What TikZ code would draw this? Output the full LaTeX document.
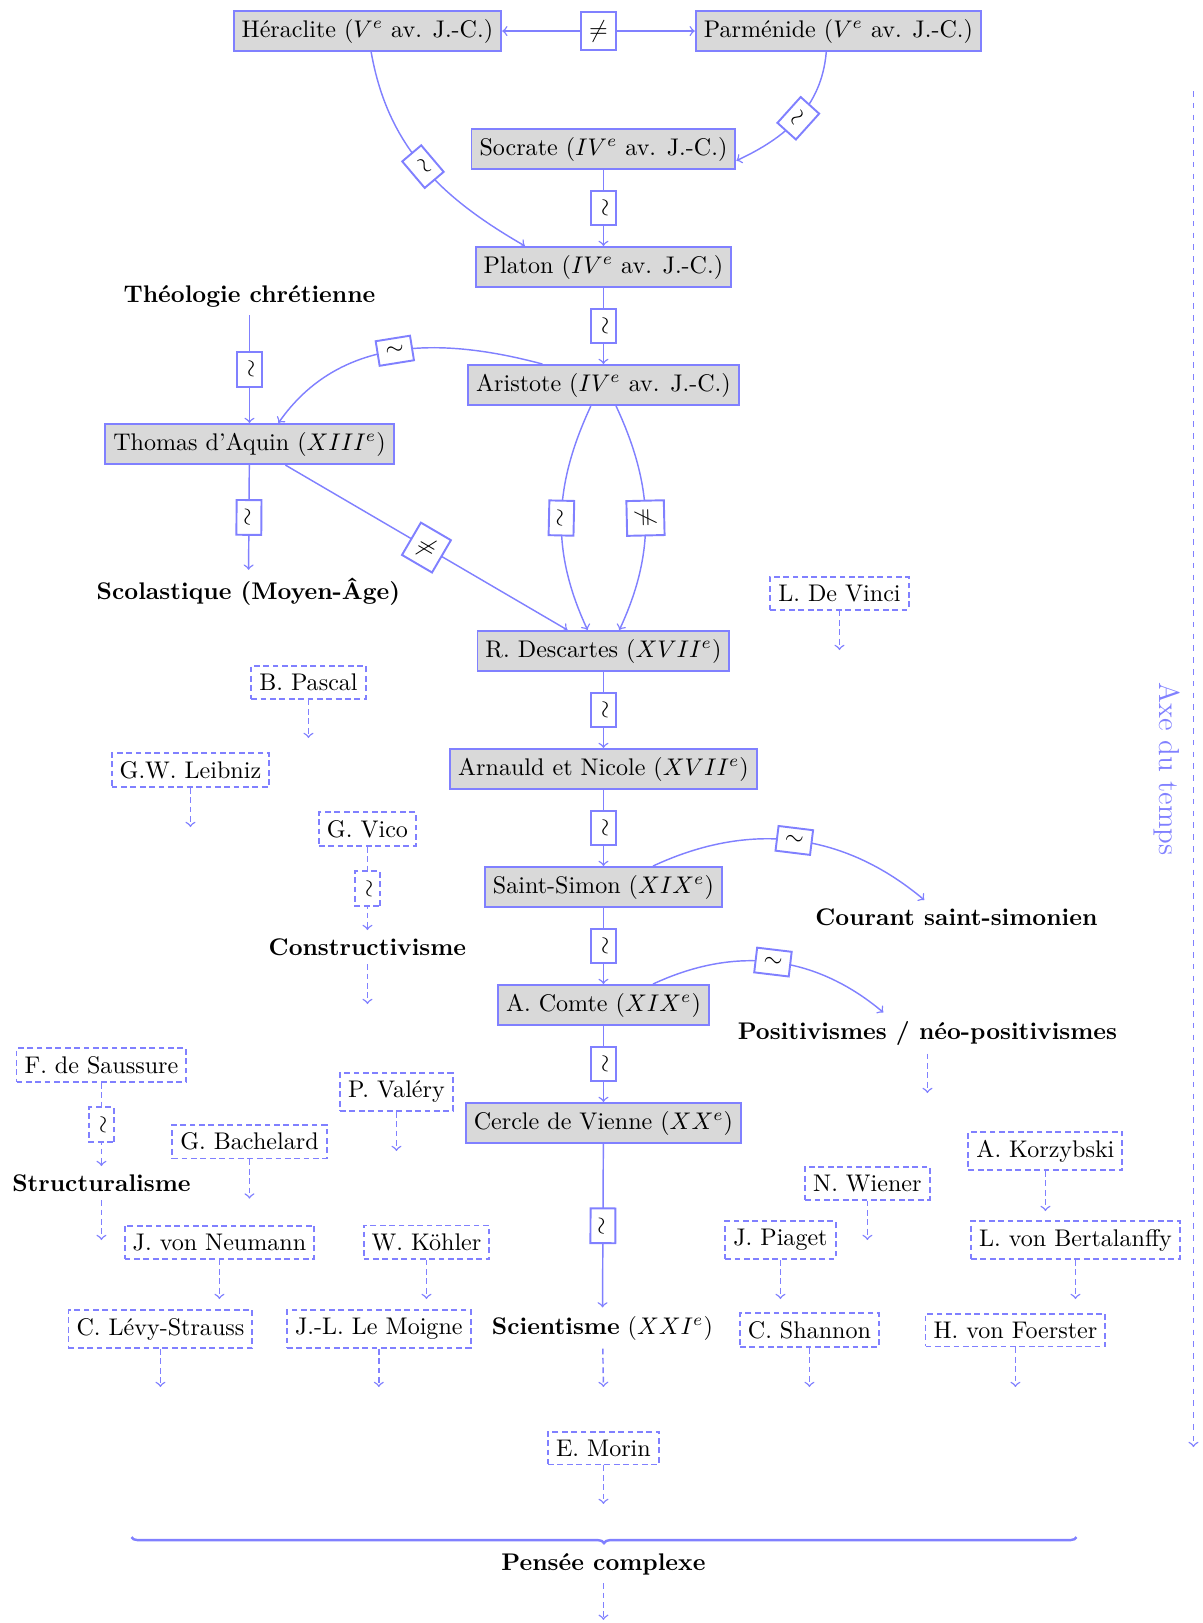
\documentclass[tikz,border=0pt]{standalone}
\usetikzlibrary{decorations.pathreplacing}
\begin{document}
\begin{tikzpicture}[x=0.43pt,y=0.43pt,
  thinker/.style={draw=blue!50, fill=gray!30, line width=0.8pt},
  heir/.style={draw=blue!50, line width=0.8pt, dash pattern=on 2.4pt off 1.5pt},
  school/.style={font=\bfseries},
  link/.style={draw=blue!50, line width=0.6pt, ->},
  dlink/.style={link, dash pattern=on 2.4pt off 1.5pt},
  tag/.style={draw=blue!50, fill=white, line width=0.8pt, sloped, midway, text=black},
]
\useasboundingbox (0,0) rectangle (1162,-1568);

% main line of thinkers
\node[thinker] (her) at (355,-30) {Héraclite ($V^e$ av. J.-C.)};
\node[thinker] (par) at (810,-30) {Parménide ($V^e$ av. J.-C.)};
\node[thinker] (soc) at (583,-144) {Socrate ($IV^e$ av. J.-C.)};
\node[thinker] (pla) at (583,-258) {Platon ($IV^e$ av. J.-C.)};
\node[thinker] (ari) at (583,-372) {Aristote ($IV^e$ av. J.-C.)};
\node[school] (theo) at (241,-286) {Théologie chrétienne};
\node[thinker] (tho) at (241,-429) {Thomas d'Aquin ($XIII^e$)};
\node[school] (sco) at (240,-572) {Scolastique (Moyen-Âge)};
\node[thinker] (des) at (583,-629) {R. Descartes ($XVII^e$)};
\node[thinker] (arn) at (583,-743) {Arnauld et Nicole ($XVII^e$)};
\node[thinker] (sai) at (583,-857) {Saint-Simon ($XIX^e$)};
\node[thinker] (com) at (583,-971) {A. Comte ($XIX^e$)};
\node[thinker] (cer) at (583,-1085) {Cercle de Vienne ($XX^e$)};
\node (sci) at (582,-1283) {\textbf{Scientisme} ($XXI^e$)};
\node[school] (cou) at (924,-886) {Courant saint-simonien};
\node[school] (pos) at (896,-998) {Positivismes / néo-positivismes};

% other thinkers and currents
\node[heir] (vinci) at (811,-573) {L. De Vinci};
\node[heir] (pascal) at (298,-659) {B. Pascal};
\node[heir] (leibniz) at (184,-744) {G.W. Leibniz};
\node[heir] (vico) at (355,-801) {G. Vico};
\node[school] (cons) at (355,-915) {Constructivisme};
\node[heir] (saussure) at (98,-1029) {F. de Saussure};
\node[school] (struct) at (98,-1143) {Structuralisme};
\node[heir] (valery) at (383,-1055) {P. Valéry};
\node[heir] (bachelard) at (241,-1103) {G. Bachelard};
\node[heir] (neumann) at (212,-1200) {J. von Neumann};
\node[heir] (kohler) at (412,-1200) {W. Köhler};
\node[heir] (levi) at (155,-1284) {C. Lévy-Strauss};
\node[heir] (moigne) at (366,-1284) {J.-L. Le Moigne};
\node[heir] (wiener) at (838,-1143) {N. Wiener};
\node[heir] (piaget) at (754,-1198) {J. Piaget};
\node[heir] (shannon) at (782,-1285) {C. Shannon};
\node[heir] (korz) at (1010,-1112) {A. Korzybski};
\node[heir] (berta) at (1039,-1198) {L. von Bertalanffy};
\node[heir] (foerster) at (981,-1285) {H. von Foerster};
\node[heir] (morin) at (583,-1399) {E. Morin};
\node[school] (pc) at (583,-1511) {Pensée complexe};

% open ends of the dashed arrows
\coordinate (posend) at (896,-1056);
\coordinate (sciend) at (583,-1340);
\coordinate (vinciend) at (811,-628);
\coordinate (pascalend) at (298,-713);
\coordinate (leibnizend) at (184,-799);
\coordinate (consend) at (355,-970);
\coordinate (structend) at (98,-1198);
\coordinate (valeryend) at (383,-1112);
\coordinate (bachelardend) at (241,-1158);
\coordinate (neumannend) at (212,-1255);
\coordinate (kohlerend) at (412,-1255);
\coordinate (leviend) at (155,-1340);
\coordinate (moigneend) at (366,-1340);
\coordinate (wienerend) at (838,-1198);
\coordinate (piagetend) at (754,-1255);
\coordinate (shannonend) at (782,-1340);
\coordinate (korzend) at (1010,-1170);
\coordinate (bertaend) at (1039,-1255);
\coordinate (foersterend) at (981,-1340);
\coordinate (morinend) at (583,-1453);
\coordinate (pcend) at (583,-1565);
\coordinate (axetop) at (1153,-88);
\coordinate (axebot) at (1153,-1398);
\coordinate (braceL) at (127,-1485);
\coordinate (braceR) at (1040,-1485);

% filiations
\draw[link,<->] (her) -- node[tag] {$\neq$} (par);
\draw[link] (her.-80) to[out=-80,in=150] node[tag] {$\sim$} (pla.165);
\draw[link] (par.240) to[out=-95,in=25] node[tag] {$\sim$} (soc.-5);
\draw[link] (soc) -- node[tag] {$\sim$} (pla);
\draw[link] (pla) -- node[tag] {$\sim$} (ari);
\draw[link] (ari.161) to[out=165,in=55] node[tag] {$\sim$} (tho.36);
\draw[link] (theo) -- node[tag] {$\sim$} (tho);
\draw[link] (tho) -- node[tag] {$\sim$} (sco);
\draw[link] (tho) -- node[tag] {$\neq$} (des);
\draw[link] (ari.-121) to[out=-115,in=115] node[tag] {$\sim$} (des.127);
\draw[link] (ari.-59) to[out=-65,in=65] node[tag] {$\neq$} (des.53);
\draw[link] (des) -- node[tag] {$\sim$} (arn);
\draw[link] (arn) -- node[tag] {$\sim$} (sai);
\draw[link] (sai) -- node[tag] {$\sim$} (com);
\draw[link] (com) -- node[tag] {$\sim$} (cer);
\draw[link] (cer) -- node[tag] {$\sim$} (sci);
\draw[link] (sai.23) to[out=25,in=140] node[tag] {$\sim$} (cou.152);
\draw[link] (com.23) to[out=25,in=140] node[tag] {$\sim$} (pos.155);

% dashed influences
\draw[dlink] (pos) -- (posend);
\draw[dlink] (sci) -- (sciend);
\draw[dlink] (vinci) -- (vinciend);
\draw[dlink] (pascal) -- (pascalend);
\draw[dlink] (leibniz) -- (leibnizend);
\draw[dlink] (vico) -- node[tag] {$\sim$} (cons);
\draw[dlink] (cons) -- (consend);
\draw[dlink] (saussure) -- node[tag] {$\sim$} (struct);
\draw[dlink] (struct) -- (structend);
\draw[dlink] (valery) -- (valeryend);
\draw[dlink] (bachelard) -- (bachelardend);
\draw[dlink] (neumann) -- (neumannend);
\draw[dlink] (kohler) -- (kohlerend);
\draw[dlink] (levi) -- (leviend);
\draw[dlink] (moigne) -- (moigneend);
\draw[dlink] (wiener) -- (wienerend);
\draw[dlink] (piaget) -- (piagetend);
\draw[dlink] (shannon) -- (shannonend);
\draw[dlink] (korz) -- (korzend);
\draw[dlink] (berta) -- (bertaend);
\draw[dlink] (foerster) -- (foersterend);
\draw[dlink] (morin) -- (morinend);
\draw[dlink] (pc) -- (pcend);

% brace gathering everything into complex thought
\draw[draw=blue!50, line width=1pt, decorate,
      decoration={brace, mirror, amplitude=2.5pt}] (braceL) -- (braceR);

% time axis
\draw[link, dash pattern=on 2.3pt off 2.6pt] (axetop) -- (axebot);
\node[text=blue!50, rotate=-90, font=\large] (axe) at (1127,-743) {Axe du temps};
\end{tikzpicture}
\end{document}
